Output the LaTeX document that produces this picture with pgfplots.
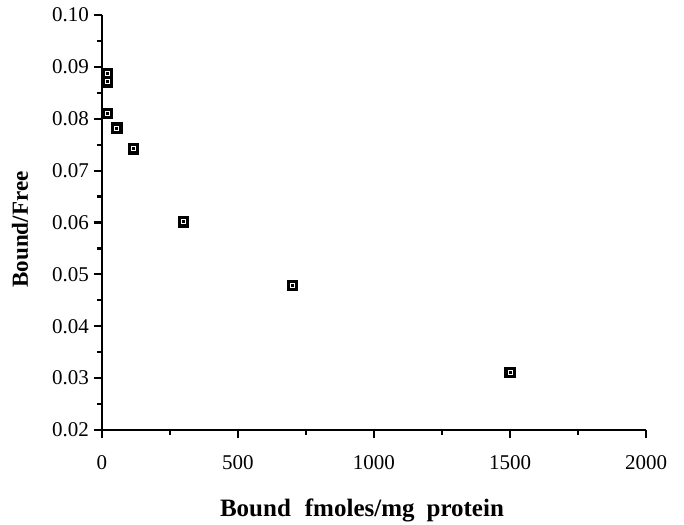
\documentclass[border=0pt]{standalone}
\usepackage{fontspec}
\setmainfont{Liberation Serif}
\usepackage{pgfplots}
\pgfplotsset{compat=1.18}
\begin{document}
\begin{tikzpicture}
\useasboundingbox (-51pt,-47pt) rectangle (291pt,215pt);
\begin{axis}[
  scale only axis,
  width=272pt, height=207.5pt,
  at={(0,0)}, anchor=origin,
  xmin=0, xmax=2000, ymin=0.02, ymax=0.10,
  axis x line*=bottom, axis y line*=left,
  axis line style={line width=1.4pt, -},
  xtick={0,500,1000,1500,2000},
  ytick={0.02,0.03,0.04,0.05,0.06,0.07,0.08,0.09,0.10},
  minor x tick num=1, minor y tick num=1,
  tick align=outside,
  major tick length=4pt, minor tick length=2.5pt,
  every tick/.style={line width=1.1pt, black},
  y tick label style={/pgf/number format/fixed, /pgf/number format/fixed zerofill, /pgf/number format/precision=2, xshift=1pt},
  x tick label style={/pgf/number format/1000 sep={}, yshift=-5pt},
  /pgf/number format/assume math mode=true,
  scaled y ticks=false,
  tick label style={font=\fontsize{10.5pt}{12pt}\selectfont},
  xlabel={\textbf{Bound\hspace{7pt}fmoles/mg\hspace{6pt}protein}},
  ylabel={\textbf{Bound/Free}},
  label style={font=\fontsize{11.5pt}{13pt}\selectfont},
  xlabel style={font=\fontsize{12.5pt}{14pt}\selectfont, at={(axis description cs:0.5,0)}, anchor=center, yshift=-40pt, xshift=-6pt},
  ylabel style={at={(axis description cs:0,0.5)}, anchor=center, yshift=41pt, xshift=-3.5pt},
  clip=false,
]
\addplot[only marks, mark=square*, mark size=2.6pt, mark options={fill=black, draw=black}] coordinates {
(20,0.0888) (20,0.0871) (20,0.0810) (55,0.0782) (115,0.0742) (300,0.0601) (700,0.0479) (1500,0.0311)
};
\addplot[only marks, mark=square, mark size=1.0pt, mark options={draw=white, line width=0.5pt}] coordinates {
(20,0.0888) (20,0.0871) (20,0.0810) (55,0.0782) (115,0.0742) (300,0.0601) (700,0.0479) (1500,0.0311)
};
\end{axis}
\end{tikzpicture}
\end{document}
